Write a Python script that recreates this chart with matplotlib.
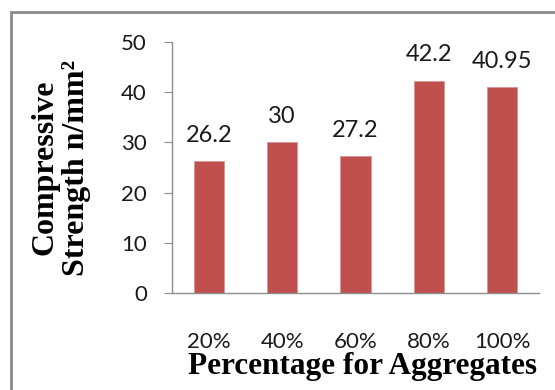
import matplotlib
matplotlib.use("Agg")
import matplotlib.pyplot as plt
from matplotlib.patches import Rectangle

# Compressive strength for each aggregate replacement level
categories = ['20%', '40%', '60%', '80%', '100%']
strength = [26.2, 30, 27.2, 42.2, 40.95]
strength_labels = ['26.2', '30', '27.2', '42.2', '40.95']
yticks = [0, 10, 20, 30, 40, 50]

W, H = 555, 390
fig = plt.figure(figsize=(W / 100, H / 100), dpi=100)
ax = fig.add_axes([172 / W, 1 - 293 / H, (539 - 172) / W, (293 - 42) / H])

x = range(len(categories))
bars = ax.bar(x, strength, width=0.41, color='#C0504D', edgecolor='#D99694', linewidth=0.6)

for rect, lab in zip(bars, strength_labels):
    ax.annotate(lab, (rect.get_x() + rect.get_width() / 2, rect.get_height()),
                xytext=(0, 19), textcoords='offset points', ha='center', va='center',
                fontsize=17, family='Lato', color='#1a1a1a')

ax.set_xlim(-0.5, len(categories) - 0.5)
ax.set_ylim(0, 50)
ax.set_yticks(yticks)
ax.set_xticks(list(x))
ax.set_xticklabels(categories)

for s in ['top', 'right']:
    ax.spines[s].set_visible(False)
for s in ['left', 'bottom']:
    ax.spines[s].set_color('#8C8C8C')
    ax.spines[s].set_linewidth(1.0)

ax.tick_params(axis='y', length=6, color='#8C8C8C', pad=12, labelsize=16)
ax.tick_params(axis='x', length=0, pad=28, labelsize=16)
for t in ax.get_xticklabels() + ax.get_yticklabels():
    t.set_family('Lato')
    t.set_color('#1a1a1a')

ax.set_ylabel('Compressive\nStrength n/mm²', family='Liberation Serif',
              fontweight='bold', fontsize=23, linespacing=1.08)
ax.yaxis.set_label_coords(-0.222, 0.5)
ax.set_xlabel('Percentage for Aggregates', family='Liberation Serif',
              fontweight='bold', fontsize=22.5)
ax.xaxis.set_label_coords((362 - 172) / 367, -0.235)

# outer frame, partly cut off at right and bottom
fig.patches.append(Rectangle((11 / W, -0.1), 1.2, 1 - 12 / H + 0.1, transform=fig.transFigure,
                             fill=False, edgecolor='#8A8A8A', linewidth=2))

fig.savefig('out.png', dpi=100)
